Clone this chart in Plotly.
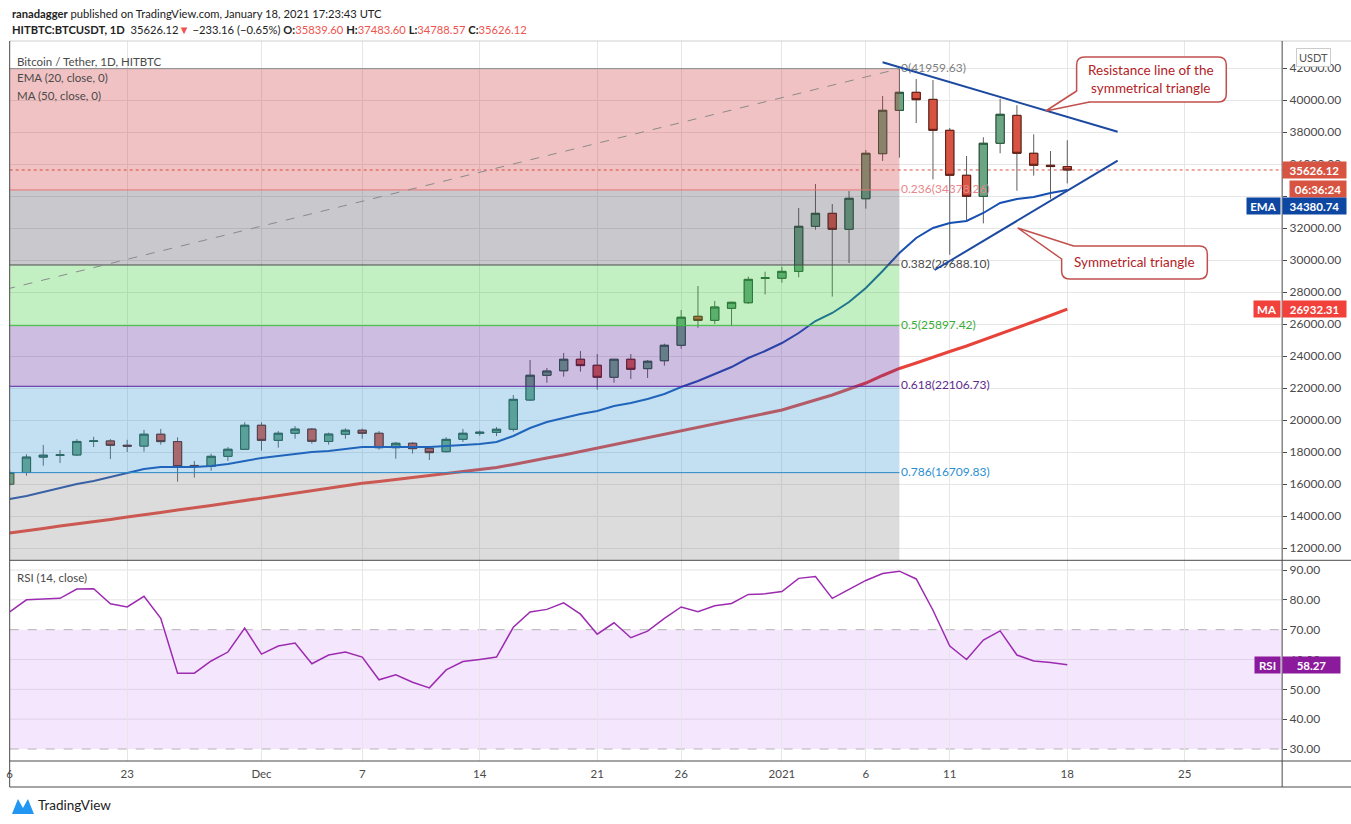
import plotly.graph_objects as go
import pandas as pd

W, H = 1351, 824

# ---------------- data ----------------
dates = pd.date_range("2020-11-16", "2021-01-18", freq="D")
opens = [15990, 16720, 17680, 17800, 17815, 18660, 18690, 18420, 18370, 19110,
         18650, 17160, 17100, 17730, 18170, 19670, 18730, 19170, 19430, 18660,
         19110, 19360, 19170, 18270, 18545, 18230, 18020, 18795, 19170, 19230,
         19420, 21250, 22795, 23080, 23795, 23420, 22670, 23795, 23210, 23705,
         24670, 26480, 26230, 26980, 27330, 28860, 28860, 29290, 32105, 32917,
         31920, 33830, 36645, 39355, 40480, 40040, 38105, 35295, 33980, 37295,
         39040, 36670, 35920, 35839.60]
highs = [16880, 17860, 18440, 18125, 18800, 18950, 18810, 18760, 19380, 19440,
         18920, 17440, 17890, 18310, 19860, 19860, 19310, 19620, 19500, 19210,
         19480, 19460, 19310, 18630, 18620, 18330, 18920, 19440, 19340, 19560,
         21560, 23750, 23250, 24190, 24310, 24125, 23800, 24125, 23750, 24770,
         26875, 28375, 27440, 27400, 28960, 29270, 29580, 33250, 34750, 33500,
         34310, 36875, 40250, 41959.63, 41310, 41250, 38250, 36500, 37670, 40080,
         39670, 37855, 36810, 37483.60]
lows = [15870, 16520, 17140, 17310, 17750, 18310, 17560, 18000, 18020, 18460,
        16150, 16400, 16830, 17440, 18170, 18080, 18270, 18830, 18520, 18460,
        18830, 18830, 18150, 17580, 17900, 17500, 17960, 18625, 19020, 19000,
        19280, 21200, 22330, 22710, 23020, 21895, 22330, 22560, 22625, 23395,
        24455, 25770, 26000, 25875, 27250, 27850, 28580, 28920, 31895, 27710,
        29810, 33210, 36190, 36395, 38560, 35040, 30330, 32500, 32290, 36670,
        34330, 35270, 33830, 34788.57]
closes = [16720, 17680, 17800, 17815, 18660, 18690, 18420, 18370, 19110, 18650,
          17090, 17090, 17730, 18170, 19670, 18730, 19170, 19430, 18670, 19120,
          19360, 19170, 18270, 18545, 18210, 17960, 18790, 19170, 19230, 19420,
          21290, 22795, 23060, 23795, 23400, 22670, 23795, 23170, 23670, 24670,
          26420, 26230, 27060, 27355, 28790, 28880, 29290, 32105, 32917, 31920,
          33855, 36668, 39355, 40480, 40020, 38105, 35295, 33980, 37295, 39105,
          36670, 35920, 35840, 35626.12]
ema20 = [15062, 15250, 15500, 15750, 16000, 16188, 16438, 16688, 16938, 17062,
         17062, 17062, 17125, 17250, 17438, 17625, 17750, 17875, 18000, 18062,
         18188, 18312, 18312, 18312, 18312, 18312, 18375, 18438, 18500, 18625,
         19000, 19500, 19875, 20125, 20375, 20562, 20875, 21062, 21312, 21625,
         22062, 22438, 22875, 23312, 23875, 24312, 24812, 25438, 26188, 26688,
         27375, 28250, 29312, 30438, 31375, 32000, 32312, 32438, 32938, 33562,
         33812, 33938, 34188, 34380.74]
ma50 = [12938, 13062, 13219, 13375, 13500, 13625, 13781, 13938, 14062, 14219,
        14375, 14500, 14656, 14812, 14969, 15125, 15281, 15438, 15594, 15750,
        15906, 16044, 16156, 16281, 16406, 16531, 16656, 16769, 16906, 17031,
        17219, 17438, 17625, 17812, 18031, 18250, 18469, 18688, 18906, 19125,
        19344, 19562, 19781, 20000, 20188, 20406, 20625, 20938, 21250, 21562,
        21938, 22312, 22781, 23219, 23562, 23938, 24281, 24625, 25000, 25375,
        25781, 26156, 26531, 26932.31]
rsi14 = [76, 80, 80.3, 80.5, 83.6, 83.7, 78.7, 77.6, 81.2, 73.8,
         55.4, 55.4, 59.5, 62.5, 70.5, 61.8, 64.5, 65.5, 58.6, 61.5,
         62.5, 60.8, 53.2, 54.9, 52.4, 50.5, 56.5, 59.3, 60, 60.8,
         70.8, 75.9, 76.8, 79, 75.2, 68.5, 72.3, 67.3, 69.5, 73.8,
         77.6, 76, 78, 78.8, 81.8, 82, 82.8, 87.2, 87.8, 80.5,
         83.5, 86.5, 88.8, 89.6, 87, 76.5, 64.5, 60, 66.5, 69.6,
         61.5, 59.5, 59, 58.27]

fib_ratios = [0, 0.236, 0.382, 0.5, 0.618, 0.786, 1]
fib_prices = [41959.63, 34378.26, 29688.10, 25897.42, 22106.73, 16709.83, 9835.21]
fib_start = "2020-09-06"
fib_end = "2021-01-08"

# user-drawn triangle lines (day offset from first bar, price)
tri_res_x = [52.0, 66.0]
tri_res_y = [42356, 38019]
tri_sup_x = [55.1, 66.0]
tri_sup_y = [29375, 36206]

tick_dates = ["2020-11-16", "2020-11-23", "2020-12-01", "2020-12-07", "2020-12-14",
              "2020-12-21", "2020-12-26", "2021-01-01", "2021-01-06", "2021-01-11",
              "2021-01-18", "2021-01-25"]
tick_labels = ["6", "23", "Dec", "7", "14", "21", "26", "2021", "6", "11", "18", "25"]
price_ticks = list(range(12000, 42001, 2000))
rsi_ticks = [30, 40, 50, 60, 70, 80, 90]
hidden_price_ticks = [34000]  # fully covered by the EMA tag in the reference

last_price = 35626.12
# ---------------- helpers ----------------
t0 = dates[0]
def day(d):
    return (pd.Timestamp(d) - t0).days

xs = [day(d) for d in dates]
tick_x = [day(d) for d in tick_dates]

def PX(x):
    return x / W

def PY(y):
    return 1 - y / H

def price_at_px(y):
    return 42000 - 62.5 * (y - 68)

FONT = "Lato"
UP, DN = "#6ba583", "#d75442"
UPL, DNL = "#225437", "#5b1a13"

fig = go.Figure()

# fib labels (under candles)
fib_label_colors = ["#808080", "#e8878a", "#4a4a4a", "#3aad3a", "#5e2a8c", "#2a8fd0"]
fib_text = [f"{r:g}({p:.2f})" for r, p in zip(fib_ratios[:6], fib_prices[:6])]
fig.add_trace(go.Scatter(
    x=[day(fib_end) + 0.1] * 6, y=fib_prices[:6], text=fib_text, mode="text",
    textposition="middle right", textfont=dict(family=FONT, size=12, color=fib_label_colors),
    xaxis="x", yaxis="y", hoverinfo="skip"))

# wicks
fig.add_trace(go.Candlestick(
    x=xs, open=opens, high=highs, low=lows, close=closes,
    increasing=dict(line=dict(color="#5e5e5e", width=1), fillcolor="#5e5e5e"),
    decreasing=dict(line=dict(color="#5e5e5e", width=1), fillcolor="#5e5e5e"),
    xaxis="x", yaxis="y", hoverinfo="skip"))
# bodies
body_hi = [max(o, c) for o, c in zip(opens, closes)]
body_lo = [min(o, c) for o, c in zip(opens, closes)]
fig.add_trace(go.Candlestick(
    x=xs, open=opens, high=body_hi, low=body_lo, close=closes,
    increasing=dict(line=dict(color=UPL, width=1), fillcolor=UP),
    decreasing=dict(line=dict(color=DNL, width=1), fillcolor=DN),
    xaxis="x", yaxis="y", hoverinfo="skip"))

fig.add_trace(go.Scatter(x=xs, y=ema20, mode="lines", line=dict(color="#1650b0", width=2),
                         xaxis="x", yaxis="y", hoverinfo="skip"))
fig.add_trace(go.Scatter(x=xs, y=ma50, mode="lines", line=dict(color="#e8433a", width=3),
                         xaxis="x", yaxis="y", hoverinfo="skip"))
fig.add_trace(go.Scatter(x=tri_res_x, y=tri_res_y, mode="lines", line=dict(color="#1c4aa0", width=2),
                         xaxis="x", yaxis="y", hoverinfo="skip"))
fig.add_trace(go.Scatter(x=tri_sup_x, y=tri_sup_y, mode="lines", line=dict(color="#1c4aa0", width=2),
                         xaxis="x", yaxis="y", hoverinfo="skip"))

fig.add_trace(go.Scatter(x=xs, y=rsi14, mode="lines", line=dict(color="#9c2bb0", width=1.5),
                         xaxis="x2", yaxis="y2", hoverinfo="skip"))

shapes = []
# current price dotted line
shapes.append(dict(type="line", xref="x", yref="y", x0=0, x1=75.8, y0=last_price, y1=last_price,
                   line=dict(color=DN, width=1, dash="dot"), layer="below"))
# RSI band + level lines
shapes.append(dict(type="rect", xref="x2", yref="y2", x0=0, x1=75.8, y0=30, y1=70,
                   fillcolor="#f4e6fd", line=dict(width=0), layer="below"))
for v in [40, 50, 60, 80, 90]:
    shapes.append(dict(type="line", xref="x2", yref="y2", x0=0, x1=75.8, y0=v, y1=v,
                       line=dict(color="#e0d2ea" if v < 70 else "#e3e3e3", width=1), layer="below"))
for v in [30, 70]:
    shapes.append(dict(type="line", xref="x2", yref="y2", x0=0, x1=75.8, y0=v, y1=v,
                       line=dict(color="#b4b4b4", width=1, dash="dash"), layer="below"))

# fib zones (overlay above)
zone_colors = ["rgba(208,52,55,0.3)", "rgba(75,72,88,0.3)", "rgba(55,205,55,0.3)",
               "rgba(88,35,152,0.3)", "rgba(55,152,212,0.3)", "rgba(138,138,138,0.3)"]
line_colors = ["#8a8a8a", "#e57373", "#4a4a4a", "#3cc13c", "#5b1fa0", "#2a8ac8", "#8a8a8a"]
fx0, fx1 = day(fib_start), day(fib_end)
for i in range(6):
    shapes.append(dict(type="rect", xref="x", yref="y", x0=fx0, x1=fx1,
                       y0=fib_prices[i + 1], y1=fib_prices[i], fillcolor=zone_colors[i],
                       line=dict(width=0), layer="above"))
for i in range(7):
    shapes.append(dict(type="line", xref="x", yref="y", x0=fx0, x1=fx1,
                       y0=fib_prices[i], y1=fib_prices[i],
                       line=dict(color=line_colors[i], width=1), layer="above"))
shapes.append(dict(type="line", xref="x", yref="y", x0=fx0, x1=fx1,
                   y0=fib_prices[-1], y1=fib_prices[0],
                   line=dict(color="#8a8a8a", width=1, dash="dash"), layer="above"))

# frame lines (paper, pixels)
def pline(x0, y0, x1, y1, color, w=1):
    shapes.append(dict(type="line", xref="paper", yref="paper", x0=PX(x0), y0=PY(y0),
                       x1=PX(x1), y1=PY(y1), line=dict(color=color, width=w), layer="above"))

pline(6.7, 41, W, 41, "#cfcfcf")
pline(6.7, 41, 6.7, 787, "#4a4a4a")
pline(1282, 41, 1282, 787, "#4a4a4a")
pline(6.7, 560.3, W, 560.3, "#4a4a4a")
pline(6.7, 761, W, 761, "#4a4a4a")
pline(6.7, 787, W, 787, "#4a4a4a")

# callouts
CB = "#c0504d"
def pt(x, y):
    return f"{PX(x):.5f},{PY(y):.5f}"

def callout(x0, y0, x1, y1, a, tip, b, r=8):
    p = (f"M {pt(x0 + r, y0)} L {pt(x1 - r, y0)} Q {pt(x1, y0)} {pt(x1, y0 + r)} "
         f"L {pt(x1, y1 - r)} Q {pt(x1, y1)} {pt(x1 - r, y1)} L {pt(x0 + r, y1)} "
         f"Q {pt(x0, y1)} {pt(x0, y1 - r)} L {pt(x0, y0 + r)} Q {pt(x0, y0)} {pt(x0 + r, y0)} Z")
    shapes.append(dict(type="path", xref="paper", yref="paper", path=p, fillcolor="white",
                       line=dict(color=CB, width=1.5), layer="above"))
    shapes.append(dict(type="path", xref="paper", yref="paper",
                       path=f"M {pt(*a)} L {pt(*tip)} L {pt(*b)} Z", fillcolor="white",
                       line=dict(color="rgba(0,0,0,0)", width=0), layer="above"))
    shapes.append(dict(type="path", xref="paper", yref="paper",
                       path=f"M {pt(*a)} L {pt(*tip)} L {pt(*b)}", fillcolor="rgba(0,0,0,0)",
                       line=dict(color=CB, width=1.5), layer="above"))

callout(1076, 57, 1226, 102, (1076, 91), (1045, 111), (1089, 102))
callout(1061, 246, 1207, 279, (1073, 246), (1017, 228), (1061, 259))

# footer logo
shapes.append(dict(type="path", xref="paper", yref="paper",
                   path=f"M {pt(9, 814)} L {pt(15, 799)} L {pt(20, 808)} L {pt(25, 799)} L {pt(31, 814)} Z",
                   fillcolor="#2196f3", line=dict(color="rgba(0,0,0,0)", width=0), layer="above"))

ann = []
def text(x, y, s, size=12, color="#4a4a4a", anchor="left", ya="middle", **kw):
    ann.append(dict(x=PX(x), y=PY(y), xref="paper", yref="paper", text=s, showarrow=False,
                    xanchor=anchor, yanchor=ya, font=dict(family=FONT, size=size, color=color), **kw))

RED = "#ef5350"
text(7, 13, "<b>ranadagger</b> published on TradingView.com, January 18, 2021 17:23:43 UTC",
     size=11.2, color="#222222")
text(7, 29, f"<b>HITBTC:BTCUSDT, 1D</b>  35626.12<span style='color:{RED}'>▼</span> −233.16 (−0.65%) "
     f"<b>O:</b><span style='color:{RED}'>35839.60</span> <b>H:</b><span style='color:{RED}'>37483.60</span> "
     f"<b>L:</b><span style='color:{RED}'>34788.57</span> <b>C:</b><span style='color:{RED}'>35626.12</span>",
     size=11.2, color="#222222")
text(12, 61, "Bitcoin / Tether, 1D, HITBTC", size=11.5)
text(12, 78, "EMA (20, close, 0)", size=11.5)
text(12, 95, "MA (50, close, 0)", size=11.5)
text(12, 577, "RSI (14, close)", size=11.5)
text(33, 805, "TradingView", size=13.5, color="#222222")

CT = "#b2221f"
text(1151, 79, "Resistance line of the<br>symmetrical triangle", size=13.5, color=CT, anchor="center",
     align="center")
text(1134, 262.5, "Symmetrical triangle", size=13.5, color=CT, anchor="center")

# axis tags
def tag(x, y, s, bg, anchor="left", width=None, yref="y", color="white", bold=True, size=11.5):
    d = dict(x=PX(x), y=y, xref="paper", yref=yref, text=(f"<b>{s}</b>" if bold else s),
             showarrow=False, xanchor=anchor, yanchor="middle", bgcolor=bg,
             font=dict(family=FONT, size=size, color=color), borderpad=2, height=12)
    if width:
        d["width"] = width
    ann.append(d)

# tags stack without overlapping, as on the reference price scale
ema_tag_y = price_at_px(206)
tag(1282, last_price, "35626.12", DN, width=59)
tag(1289, price_at_px(188.5), "06:36:24", DN, width=52)
tag(1282, ema_tag_y, "34380.74", "#0d47a1", width=59)
tag(1281, ema_tag_y, "EMA", "#0d47a1", anchor="right", width=29)
tag(1282, 26932.31, "26932.31", "#f2403a", width=59)
tag(1281, 26932.31, "MA", "#f2403a", anchor="right", width=22)
tag(1282, 58.27, "58.27", "#8b1a9c", width=53, yref="y2")
tag(1281, 58.27, "RSI", "#8b1a9c", anchor="right", width=21, yref="y2")
ann.append(dict(x=PX(1313), y=PY(58), xref="paper", yref="paper", text="USDT", showarrow=False,
                xanchor="center", yanchor="middle", bgcolor="white", bordercolor="#cccccc",
                borderwidth=1, borderpad=2, font=dict(family=FONT, size=11, color="#555555")))

xd = [6.7 / W, 1282 / W]
axis_font = dict(family=FONT, size=12, color="#4a4a4a")
fig.update_layout(
    width=W, height=H, margin=dict(l=0, r=0, t=0, b=0), autosize=False,
    paper_bgcolor="white", plot_bgcolor="white", showlegend=False,
    font=dict(family=FONT),
    xaxis=dict(domain=xd, range=[0, 75.8], tickvals=tick_x, showticklabels=False,
               showgrid=True, gridcolor="#e6e6e6", zeroline=False, anchor="y",
               rangeslider=dict(visible=False), showline=False),
    xaxis2=dict(domain=xd, range=[0, 75.8], tickvals=tick_x, ticktext=tick_labels,
                showgrid=True, gridcolor="#e6e6e6", zeroline=False, anchor="y2", matches="x",
                tickfont=dict(family=FONT, size=11.5, color="#4a4a4a"), ticks="", showline=False,
                ticklabelstandoff=4, rangeslider=dict(visible=False)),
    yaxis=dict(domain=[1 - 560.3 / H, 1 - 41 / H], range=[11231, 43687.5], side="right",
               tickvals=price_ticks,
               ticktext=["" if v in hidden_price_ticks else f"{v:.2f}" for v in price_ticks],
               ticks="outside", ticklen=4, tickcolor="#4a4a4a", tickfont=axis_font,
               showgrid=True, gridcolor="#e6e6e6", zeroline=False, anchor="x"),
    yaxis2=dict(domain=[1 - 761 / H, 1 - 560.3 / H], range=[25.98, 93.25], side="right",
                tickvals=rsi_ticks, ticktext=[f"{v:.2f}" for v in rsi_ticks],
                ticks="outside", ticklen=4, tickcolor="#4a4a4a", tickfont=axis_font,
                showgrid=False, zeroline=False, anchor="x2"),
    shapes=shapes, annotations=ann,
)

fig.write_html("out.html", config={"displayModeBar": False},
               post_script="document.body.style.margin='0';document.body.style.overflow='hidden';")
